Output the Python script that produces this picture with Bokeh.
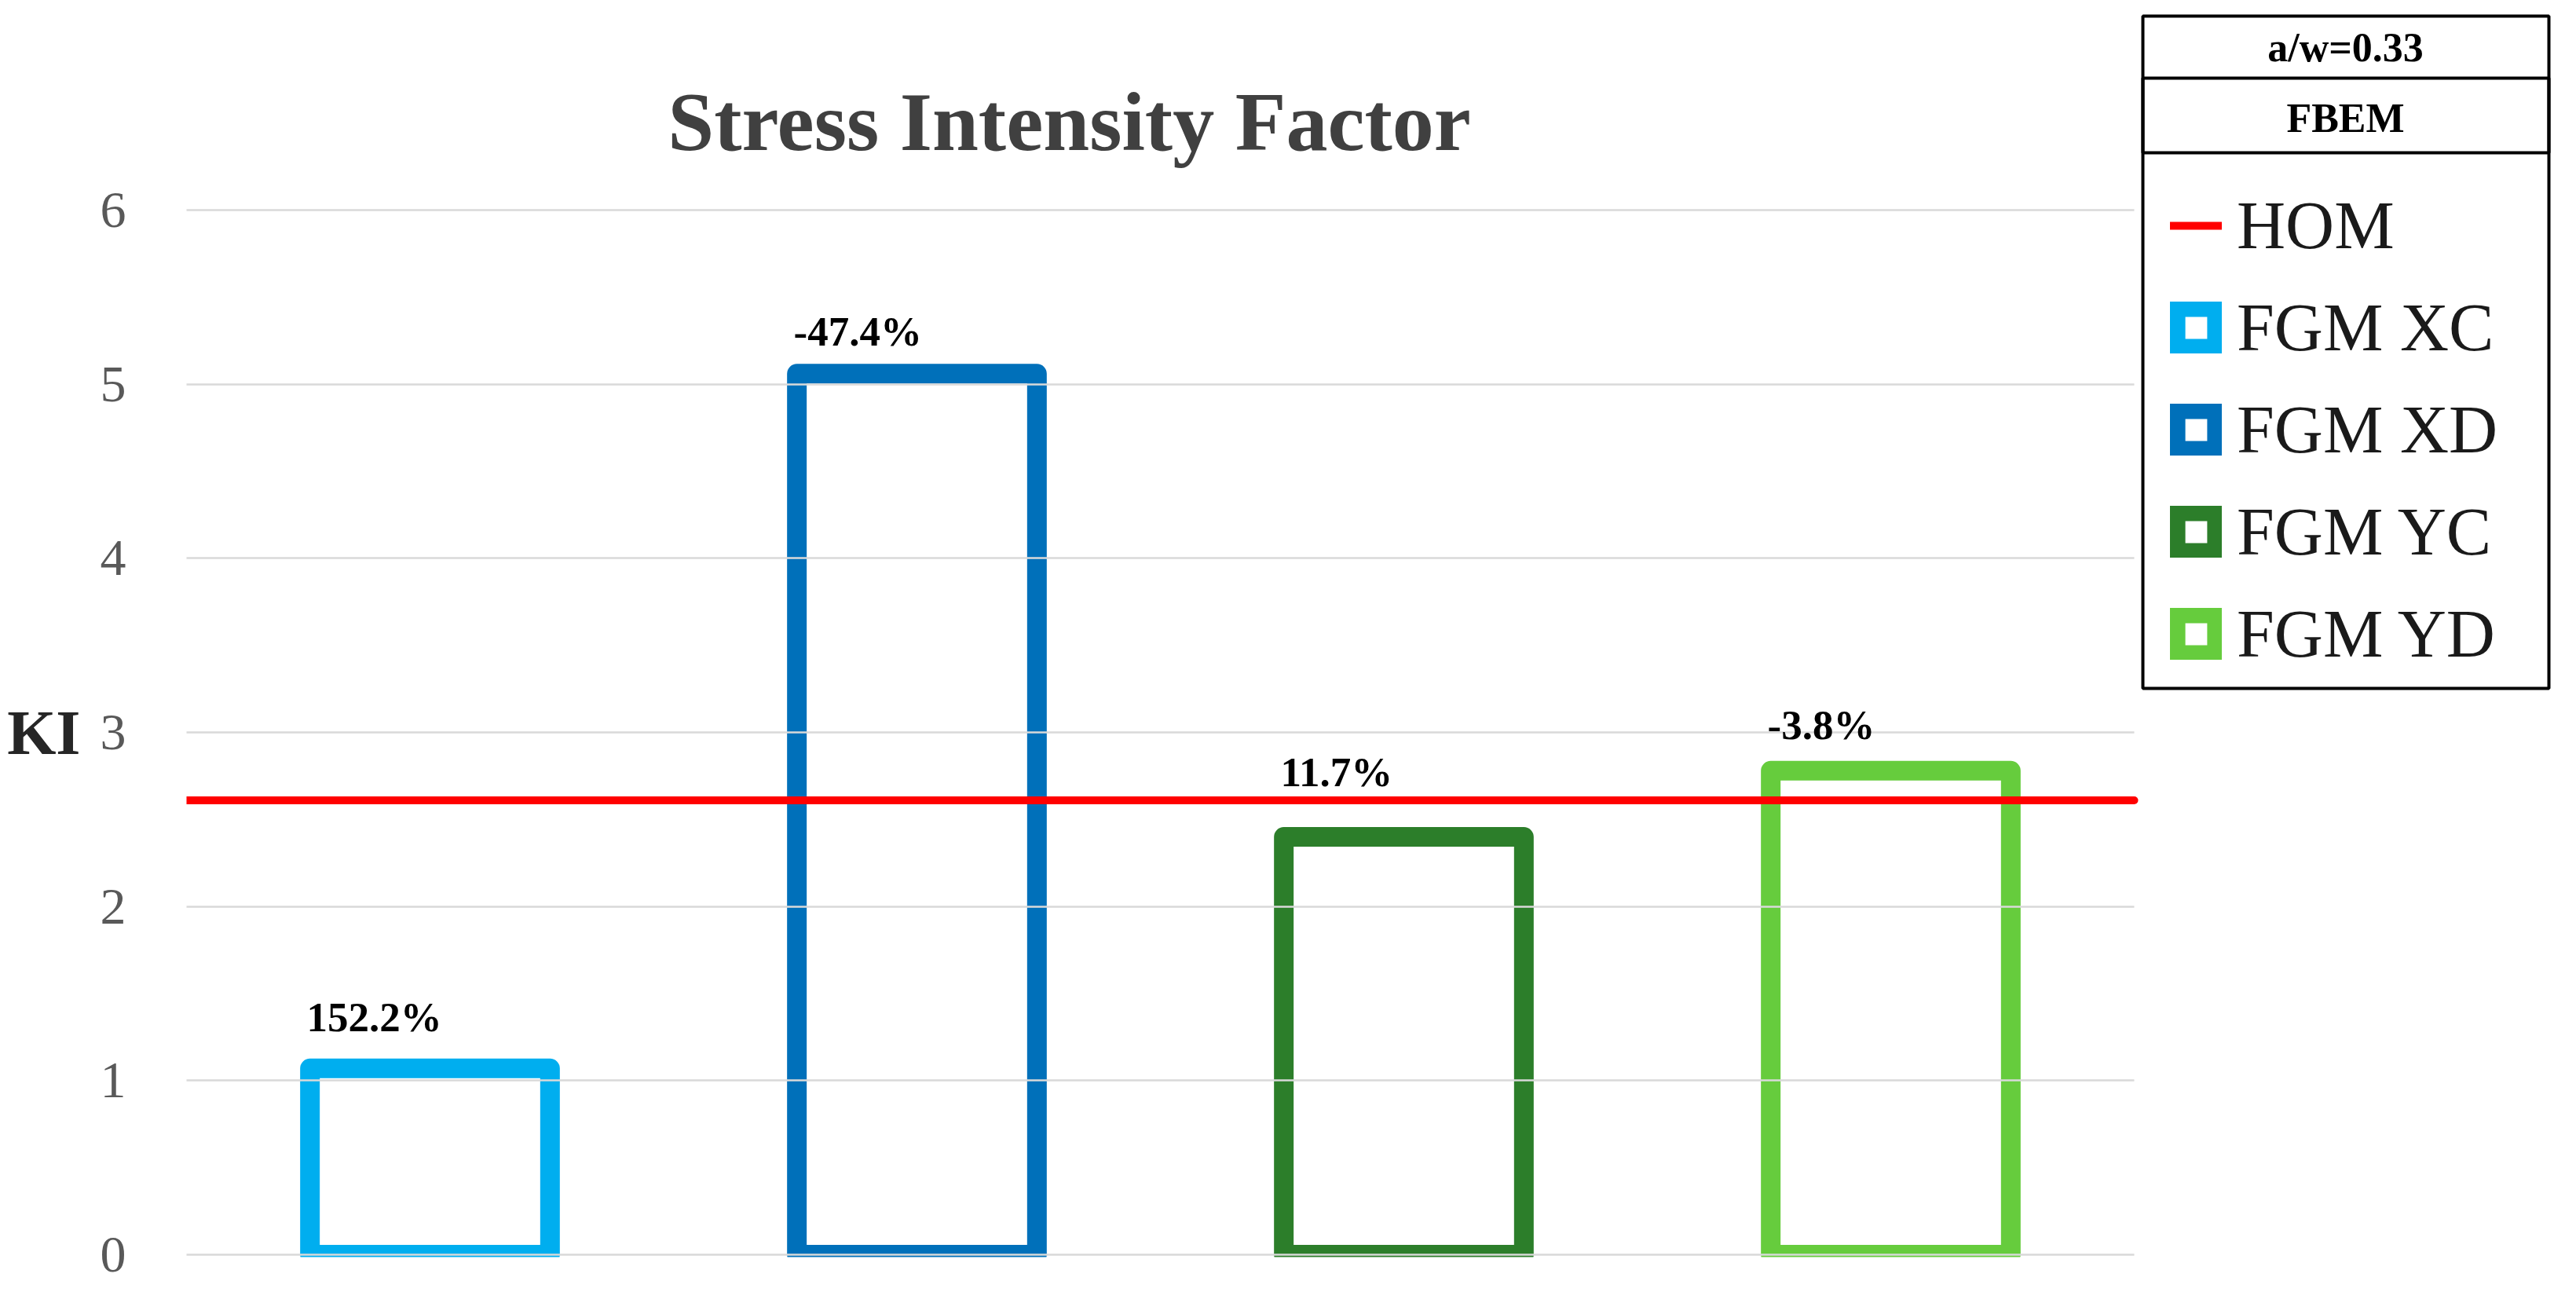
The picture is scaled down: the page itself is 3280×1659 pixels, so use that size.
from bokeh.plotting import figure
from bokeh.models import (Range1d, FixedTicker, Legend, LegendItem, Label,
                          BoxAnnotation, ColumnDataSource, LabelSet, LinearAxis)
from bokeh.embed import file_html
from bokeh.resources import INLINE
from bokeh.core.properties import value

# ---------------- data ----------------
categories = ["FGM XC", "FGM XD", "FGM YC", "FGM YD"]
ki_values = [1.07, 5.06, 2.40, 2.78]
hom_label = "HOM"
hom_value = 2.61
pct_labels = ["152.2%", "-47.4%", "11.7%", "-3.8%"]
y_ticks = [0, 1, 2, 3, 4, 5, 6]
title_text = "Stress Intensity Factor"
y_label = "KI"
y_label_at = 3
header_rows = ["a/w=0.33", "FBEM"]

# ---------------- style ----------------
bar_colors = ["#00AEEF", "#0070BA", "#2C7E2A", "#66CC3D"]
label_dy = [47, 36, 65, 40]          # label lift above bar (px)
FONT = "Liberation Serif"

W, H = 3264, 1643
FL, FB = 237, 1600          # frame left / bottom in figure pixels
Y0, Y6 = 1597, 267          # pixel rows of KI = 0 and KI = 6
X_PLOT_END = 2717           # right end of the plotting area
PX_Y = (Y0 - Y6) / 6.0
PX_X = (X_PLOT_END - FL) / len(categories)

y_lo = -(FB - Y0) / PX_Y
y_hi = Y0 / PX_Y
x_hi = (W - FL) / PX_X


def sx(px):                  # figure pixel x -> frame screen x
    return px - FL


def sy(py):                  # figure pixel y (top-down) -> frame screen y
    return FB - py


p = figure(width=W, height=H, output_backend="svg", toolbar_location=None,
           x_range=Range1d(0, x_hi), y_range=Range1d(y_lo, y_hi),
           min_border_left=FL, min_border_right=0,
           min_border_top=0, min_border_bottom=H - FB)
p.background_fill_color = "white"
p.border_fill_color = "white"
p.outline_line_color = None
p.xaxis.visible = False
p.grid.visible = False

src = ColumnDataSource(dict(x=[i + 0.5 for i in range(len(categories))],
                            top=ki_values, color=bar_colors,
                            label=pct_labels, dy=label_dy))

bars = p.vbar(x="x", top="top", bottom=0, width=0.493, source=src,
              fill_color="white", line_color="color", line_width=25,
              line_join="round")
hom = p.line(x=[0, len(categories)], y=[hom_value, hom_value],
             line_color="#FF0000", line_width=10, line_cap="round")

p.add_layout(LabelSet(x="x", y="top", text="label", source=src,
                      x_offset=-157, y_offset="dy",
                      text_align="left", text_baseline="alphabetic",
                      text_font=value(FONT), text_font_style="bold",
                      text_font_size="53px", text_color="black"))

# y axis: its inward major ticks form the horizontal grid lines
ax = p.yaxis[0]
ax.ticker = FixedTicker(ticks=y_ticks)
ax.bounds = (0, 6)
ax.axis_line_color = None
ax.minor_tick_line_color = None
ax.major_tick_out = 0
ax.major_tick_in = X_PLOT_END - FL
ax.major_tick_line_color = "#D9D9D9"
ax.major_tick_line_width = 2.5
ax.major_label_standoff = 77
ax.major_label_text_font = FONT
ax.major_label_text_font_size = "66px"
ax.major_label_text_color = "#595959"

# axis title "KI", level with the tick 3
ki_axis = LinearAxis(ticker=FixedTicker(ticks=[y_label_at]),
                     major_label_overrides={y_label_at: y_label},
                     axis_line_color=None, major_tick_line_color=None,
                     minor_tick_line_color=None, major_tick_in=0,
                     major_tick_out=0, major_label_standoff=22,
                     major_label_text_font=FONT,
                     major_label_text_font_style="bold",
                     major_label_text_font_size="80px",
                     major_label_text_color="#262626")
p.add_layout(ki_axis, "left")

# title
p.add_layout(Label(x=sx(1361), y=sy(155), x_units="screen", y_units="screen",
                   text=title_text, text_align="center",
                   text_baseline="alphabetic", text_font=FONT,
                   text_font_style="bold", text_font_size="106px",
                   text_color="#404040"))

# legend table
box_kw = dict(left_units="screen", right_units="screen",
              top_units="screen", bottom_units="screen",
              fill_alpha=0, line_color="black", line_alpha=1.0,
              line_width=4, level="overlay")
p.add_layout(BoxAnnotation(left=sx(2728), right=sx(3245), top=sy(20),
                           bottom=sy(876), **box_kw))
p.add_layout(BoxAnnotation(left=sx(2728), right=sx(3245), top=sy(99),
                           bottom=sy(194), **box_kw))
for txt, ycen in zip(header_rows, [60, 150]):
    p.add_layout(Label(x=sx(2986), y=sy(ycen), x_units="screen",
                       y_units="screen", text=txt, text_align="center",
                       text_baseline="middle", text_font=FONT,
                       text_font_style="bold", text_font_size="52px",
                       text_color="black"))

items = [LegendItem(label=hom_label, renderers=[hom])]
items += [LegendItem(label=c, renderers=[bars], index=i)
          for i, c in enumerate(categories)]
legend = Legend(items=items, location=(sx(2763), sy(862)),
                orientation="vertical", glyph_width=66, glyph_height=66,
                label_height=110, spacing=20, padding=10, label_standoff=19,
                label_text_font=FONT, label_text_font_size="86px",
                label_text_color="#1A1A1A", border_line_color=None,
                background_fill_alpha=0)
p.add_layout(legend, "center")

open("out.html", "w").write(file_html(p, INLINE))
